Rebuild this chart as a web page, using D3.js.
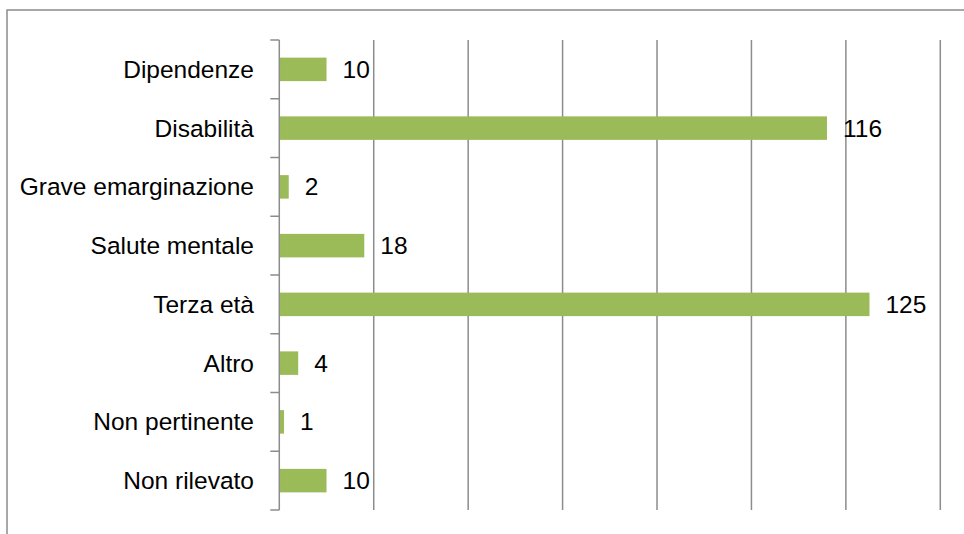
<!DOCTYPE html>
<html><head><meta charset="utf-8">
<script src="https://cdn.jsdelivr.net/npm/d3@7"></script>
<style>body{margin:0;background:#fff;}svg{display:block;}</style>
</head><body>
<svg id="c" width="964" height="534"></svg>
<script>
const categories = ["Dipendenze","Disabilità","Grave emarginazione","Salute mentale","Terza età","Altro","Non pertinente","Non rilevato"];
const values = [10,116,2,18,125,4,1,10];
const xTicks = [0,20,40,60,80,100,120,140];

const svg = d3.select("#c");
const font = "'Liberation Sans', Arial, sans-serif";
// outer frame
svg.append("rect").attr("x",7).attr("y",10).attr("width",1000).attr("height",600)
  .attr("fill","none").attr("stroke","#8c8c8c").attr("stroke-width",1.5);

const m = {left:279.3, right:940.3, top:40, bottom:510};
const x = d3.scaleLinear().domain([0,140]).range([m.left,m.right]);
const y = d3.scaleBand().domain(categories).range([m.top,m.bottom]).paddingInner(0.6).paddingOuter(0.3);
const yb = d3.scaleBand().domain(categories).range([m.top,m.bottom]);

// gridlines
svg.append("g").selectAll("line").data(xTicks.slice(1)).join("line")
  .attr("x1",d=>x(d)).attr("x2",d=>x(d)).attr("y1",m.top).attr("y2",m.bottom)
  .attr("stroke","#8c8c8c").attr("stroke-width",1.5);

// bars
svg.append("g").selectAll("rect").data(values).join("rect")
  .attr("x",x(0)).attr("y",(d,i)=>y(categories[i]))
  .attr("width",d=>x(d)-x(0)).attr("height",y.bandwidth())
  .attr("fill","#9BBB59");

// axis line and ticks
const ax = svg.append("g");
ax.append("line").attr("x1",m.left).attr("x2",m.left).attr("y1",m.top).attr("y2",m.bottom)
  .attr("stroke","#8c8c8c").attr("stroke-width",1.5);
const bounds = categories.map(c=>yb(c)).concat([m.bottom]);
ax.selectAll("line.t").data(bounds).join("line").attr("class","t")
  .attr("x1",m.left-9).attr("x2",m.left).attr("y1",d=>d).attr("y2",d=>d)
  .attr("stroke","#8c8c8c").attr("stroke-width",1.5);

// category labels
svg.append("g").selectAll("text").data(categories).join("text")
  .attr("x",254).attr("y",d=>yb(d)+yb.bandwidth()/2)
  .attr("dy","0.35em").attr("text-anchor","end")
  .attr("font-family",font).attr("font-size",24.5).attr("fill","#000").text(d=>d);

// value labels
svg.append("g").selectAll("text").data(values).join("text")
  .attr("x",d=>x(d)+16).attr("y",(d,i)=>yb(categories[i])+yb.bandwidth()/2)
  .attr("dy","0.35em").attr("text-anchor","start")
  .attr("font-family",font).attr("font-size",24.5).attr("fill","#000").text(d=>d);
</script>
</body></html>
